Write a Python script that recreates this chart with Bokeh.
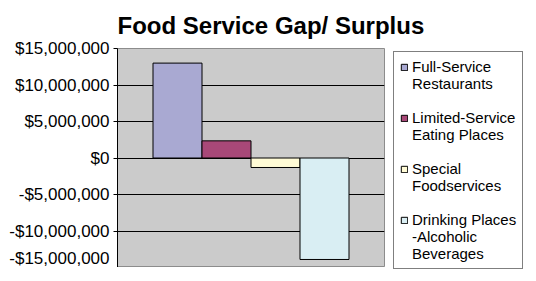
from bokeh.plotting import figure
from bokeh.models import Range1d, FixedTicker, Legend, LegendItem
from bokeh.embed import file_html
from bokeh.resources import INLINE

# ---- data ----
categories = ["Full-Service\nRestaurants", "Limited-Service\nEating Places",
              "Special\nFoodservices", "Drinking Places\n-Alcoholic\nBeverages"]
values = [13_000_000, 2_350_000, -1_300_000, -13_900_000]
colors = ["#A9A9D2", "#A84878", "#FFFBD6", "#D9EEF3"]
tick_values = [-15_000_000, -10_000_000, -5_000_000, 0, 5_000_000, 10_000_000, 15_000_000]
tick_labels = ["-$15,000,000", "-$10,000,000", "-$5,000,000", "$0",
               "$5,000,000", "$10,000,000", "$15,000,000"]

FONT = "Liberation Sans"
n = len(values)
FRAME_W, FRAME_H = 267, 219
TOTAL_W, TOTAL_H = 520, 265
half = FRAME_W / 49 / 2

p = figure(frame_width=FRAME_W, frame_height=FRAME_H, output_backend="svg",
           toolbar_location=None,
           x_range=Range1d(-half, half),
           y_range=Range1d(tick_values[0], tick_values[-1]),
           min_border_left=117, min_border_top=TOTAL_H - FRAME_H,
           min_border_bottom=0, min_border_right=TOTAL_W - 117 - FRAME_W)

p.title.text = "Food Service Gap/ Surplus"
p.title.text_font = FONT
p.title.text_font_size = "24px"
p.title.text_font_style = "bold"
p.title.text_color = "black"
p.title.align = "left"
p.title.offset = 0
p.title.standoff = 19

p.background_fill_color = "#CBCBCB"
p.border_fill_color = "white"
p.outline_line_color = "#8C8C8C"
p.outline_line_width = 1

p.xaxis.visible = False
p.xgrid.visible = False

p.yaxis.ticker = FixedTicker(ticks=tick_values)
p.yaxis.major_label_overrides = {v: l for v, l in zip(tick_values, tick_labels)}
p.yaxis.major_label_text_font = FONT
p.yaxis.major_label_text_font_size = "17px"
p.yaxis.major_label_text_color = "black"
p.yaxis.axis_line_color = "black"
p.yaxis.major_tick_line_color = "black"
p.yaxis.major_tick_out = 4
p.yaxis.major_tick_in = 0
p.yaxis.minor_tick_line_color = None
p.yaxis.major_label_standoff = 4

p.ygrid.grid_line_color = "black"
p.ygrid.grid_line_width = 1
p.ygrid.grid_line_alpha = 1

# invisible renderer used for legend continuation lines / gaps
blank = p.vbar(x=[0], top=[0], bottom=0, width=0, fill_color=None, line_color=None)

items = []
for i, (cat, val, col) in enumerate(zip(categories, values, colors)):
    r = p.vbar(x=[i - (n - 1) / 2], top=[val], bottom=0, width=1,
               fill_color=col, line_color="black", line_width=1)
    lines = cat.split("\n")
    items.append(LegendItem(label=lines[0], renderers=[r]))
    for extra in lines[1:]:
        items.append(LegendItem(label=extra, renderers=[blank]))
    if i < n - 1:
        items.append(LegendItem(label=" ", renderers=[blank]))

legend = Legend(items=items)
legend.label_text_font = FONT
legend.label_text_font_size = "15px"
legend.label_text_color = "black"
legend.glyph_width = 8
legend.glyph_height = 8
legend.label_height = 17
legend.label_standoff = 4
legend.padding = 6
legend.spacing = 0
legend.margin = 0
legend.border_line_color = "black"
legend.border_line_width = 1
legend.background_fill_color = "white"
legend.location = (9, -2)
p.add_layout(legend, "right")

open("out.html", "w").write(file_html(p, INLINE))
